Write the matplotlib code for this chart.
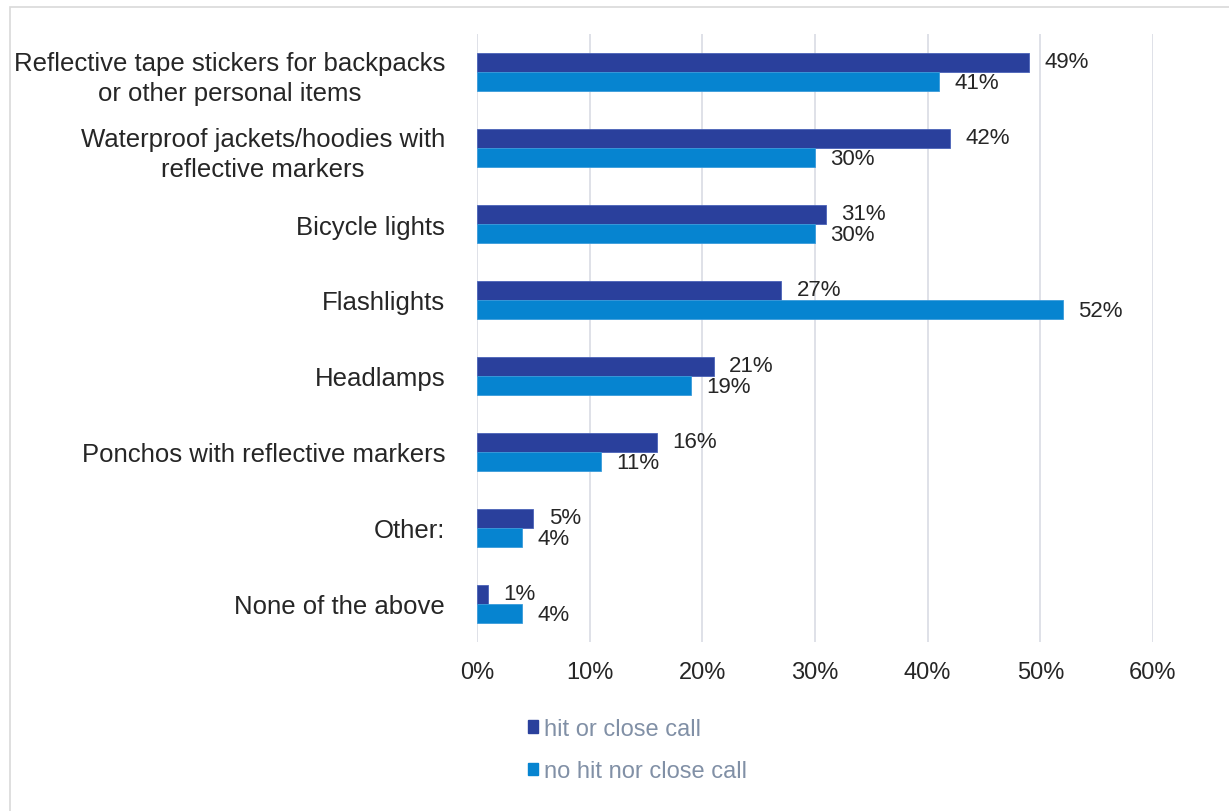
import matplotlib
matplotlib.use("Agg")
import matplotlib.pyplot as plt
from matplotlib.patches import Patch, Rectangle
import numpy as np

plt.rcParams['font.family'] = ['Liberation Sans', 'DejaVu Sans']

categories = [
    "Reflective tape stickers for backpacks\nor other personal items",
    "Waterproof jackets/hoodies with\nreflective markers",
    "Bicycle lights",
    "Flashlights",
    "Headlamps",
    "Ponchos with reflective markers",
    "Other:",
    "None of the above",
]
hit_or_close = [49, 42, 31, 27, 21, 16, 5, 1]
no_hit = [41, 30, 30, 52, 19, 11, 4, 4]
series_names = ["hit or close call", "no hit nor close call"]
xticks = [0, 10, 20, 30, 40, 50, 60]

DARK = "#2A409C"
LIGHT = "#0684D0"
TEXT = "#262626"

fig = plt.figure(figsize=(12.29, 8.12), dpi=100)
fig.patches.append(Rectangle((10 / 1229, -0.01), 1.2, 1 - 8 / 812 + 0.01,
                             transform=fig.transFigure, fill=False,
                             edgecolor="#D9D9D9", linewidth=1.2))

ax = fig.add_axes([477 / 1229, 1 - 643 / 812, 676 / 1229, 608 / 812])

y = np.arange(len(categories))
h = 0.25
ax.barh(y - h / 2, hit_or_close, height=h, color=DARK, edgecolor="#4A63B8",
        linewidth=0.6, zorder=3)
ax.barh(y + h / 2, no_hit, height=h, color=LIGHT, edgecolor="#3A9BDB",
        linewidth=0.6, zorder=3)

for yi, v in zip(y, hit_or_close):
    ax.annotate(f"{v}%", (v, yi - h / 2), xytext=(11, 1),
                textcoords="offset points", va="center", ha="left",
                fontsize=16, color=TEXT)
for yi, v in zip(y, no_hit):
    ax.annotate(f"{v}%", (v, yi + h / 2), xytext=(11, -1),
                textcoords="offset points", va="center", ha="left",
                fontsize=16, color=TEXT)

ax.set_xlim(0, 60)
ax.set_ylim(len(categories) - 0.5, -0.5)
ax.set_xticks(xticks)
ax.set_xticklabels([f"{t}%" for t in xticks], fontsize=17, color=TEXT)
ax.set_yticks(y)
ax.set_yticklabels(categories, fontsize=18.5, color=TEXT, multialignment="center",
                   linespacing=1.32)
ax.tick_params(axis="both", length=0)
ax.tick_params(axis="y", pad=23)
ax.tick_params(axis="x", pad=14)
ax.grid(axis="x", color="#D9DCE4", linewidth=1.2, zorder=0)
for s in ax.spines.values():
    s.set_visible(False)

handles = [Patch(facecolor=DARK, edgecolor=DARK), Patch(facecolor=LIGHT, edgecolor=LIGHT)]
fig.legend(handles, series_names, loc="upper left",
           bbox_to_anchor=(507 / 1229, 1 - 698 / 812), frameon=False,
           fontsize=17, labelcolor="#8190A6", handlelength=0.4,
           handleheight=0.45, handletextpad=0.25, labelspacing=0.85)

fig.savefig("out.png", dpi=100)
